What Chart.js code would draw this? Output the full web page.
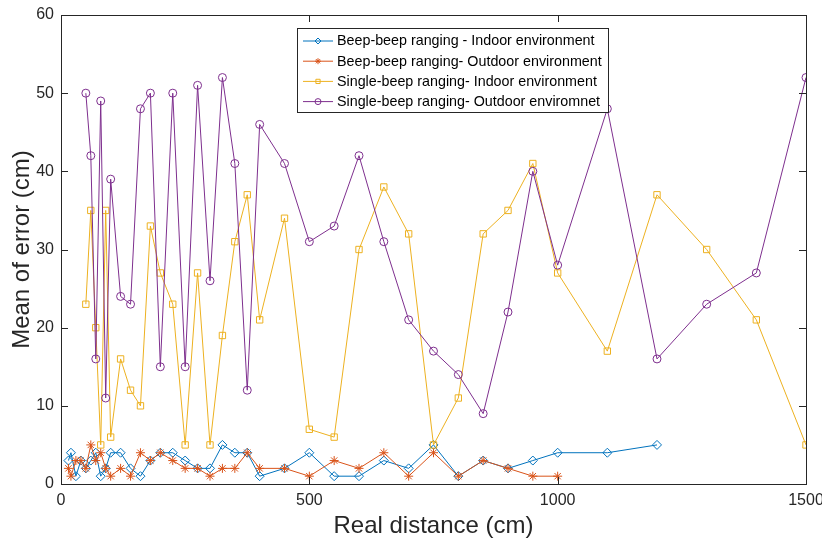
<!DOCTYPE html>
<html>
<head>
<meta charset="utf-8">
<script src="https://cdn.jsdelivr.net/npm/chart.js@4.4.0/dist/chart.umd.min.js"></script>
<style>
  html, body { margin: 0; padding: 0; background: #fff; }
  #wrap { width: 822px; height: 543px; }
</style>
</head>
<body>
<div id="wrap"><canvas id="myChart" width="822" height="543"></canvas></div>
<script>
// distances (cm)
const distBeepIn = [15, 20, 30, 40, 50, 60, 70, 80, 90, 100, 120, 140, 160, 180, 200, 225, 250, 275, 300, 325, 350, 375, 400, 450, 500, 550, 600, 650, 700, 750, 800, 850, 900, 950, 1000, 1100, 1200];
const distBeepOut = [15, 20, 30, 40, 50, 60, 70, 80, 90, 100, 120, 140, 160, 180, 200, 225, 250, 275, 300, 325, 350, 375, 400, 450, 500, 550, 600, 650, 700, 750, 800, 850, 900, 950, 1000];
const distSingle = [50, 60, 70, 80, 90, 100, 120, 140, 160, 180, 200, 225, 250, 275, 300, 325, 350, 375, 400, 450, 500, 550, 600, 650, 700, 750, 800, 850, 900, 950, 1000, 1100, 1200, 1300, 1400, 1500];

// mean error (cm)
const beepIndoor = [3, 4, 1, 3, 2, 3, 4, 1, 2, 4, 4, 2, 1, 3, 4, 4, 3, 2, 2, 5, 4, 4, 1, 2, 4, 1, 1, 3, 2, 5, 1, 3, 2, 3, 4, 4, 5];
const beepOutdoor = [2, 1, 3, 3, 2, 5, 3, 4, 2, 1, 2, 1, 4, 3, 4, 3, 2, 2, 1, 2, 2, 4, 2, 2, 1, 3, 2, 4, 1, 4, 1, 3, 2, 1, 1];
const singleIndoor = [23, 35, 20, 5, 35, 6, 16, 12, 10, 33, 27, 23, 5, 27, 5, 19, 31, 37, 21, 34, 7, 6, 30, 38, 32, 5, 11, 32, 35, 41, 27, 17, 37, 30, 21, 5];
const singleOutdoor = [50, 42, 16, 49, 11, 39, 24, 23, 48, 50, 15, 50, 15, 51, 26, 52, 41, 12, 46, 41, 31, 33, 42, 31, 21, 17, 14, 9, 22, 40, 28, 48, 16, 23, 27, 52];

const seriesNames = [
  'Beep-beep ranging - Indoor environment',
  'Beep-beep ranging- Outdoor environment',
  'Single-beep ranging- Indoor environment',
  'Single-beep ranging- Outdoor enviromnet'
];

const xTickValues = [0, 500, 1000, 1500];
const yTickValues = [0, 10, 20, 30, 40, 50, 60];

const txtColor = '#262626';
const fontFam = '"Liberation Sans", Arial, Helvetica, sans-serif';

function pts(xs, ys) {
  return xs.map((v, i) => ({ x: v, y: ys[i] }));
}

function serie(label, data, color, style, radius, order) {
  return {
    label: label,
    data: data,
    borderColor: color,
    backgroundColor: color,
    borderWidth: 1,
    pointStyle: style,
    pointRadius: radius,
    pointBorderColor: color,
    pointBackgroundColor: 'rgba(0,0,0,0)',
    pointBorderWidth: 1,
    tension: 0,
    order: order
  };
}

// box around the axes with inward ticks on all four sides
const frameBox = {
  id: 'frameBox',
  afterDraw(chart) {
    const { ctx, chartArea: a, scales: { x, y } } = chart;
    ctx.save();
    ctx.strokeStyle = txtColor;
    ctx.lineWidth = 1;
    ctx.beginPath();
    xTickValues.forEach(v => {
      const px = Math.round(x.getPixelForValue(v)) + 0.5;
      ctx.moveTo(px, a.bottom); ctx.lineTo(px, a.bottom - 7);
      ctx.moveTo(px, a.top); ctx.lineTo(px, a.top + 7);
    });
    yTickValues.forEach(v => {
      const py = Math.round(y.getPixelForValue(v)) + 0.5;
      ctx.moveTo(a.left, py); ctx.lineTo(a.left + 7, py);
      ctx.moveTo(a.right, py); ctx.lineTo(a.right - 7, py);
    });
    ctx.stroke();
    ctx.strokeRect(Math.round(a.left) + 0.5, Math.round(a.top) + 0.5,
      Math.round(a.right - a.left), Math.round(a.bottom - a.top));
    ctx.restore();
  }
};

// legend box inside the plot, like the matlab one
const boxLegend = {
  id: 'boxLegend',
  afterDraw(chart) {
    const ctx = chart.ctx;
    const bx = 297.5, by = 28.5, bw = 311, bh = 84;
    ctx.save();
    ctx.fillStyle = '#fff';
    ctx.fillRect(bx, by, bw, bh);
    ctx.strokeStyle = txtColor;
    ctx.lineWidth = 1;
    ctx.strokeRect(bx, by, bw, bh);
    ctx.font = '14.3px ' + fontFam;
    ctx.textBaseline = 'middle';
    ctx.textAlign = 'left';
    chart.data.datasets.forEach((ds, i) => {
      const ry = 41 + i * 20.2;
      ctx.strokeStyle = ds.borderColor;
      ctx.lineWidth = 1;
      ctx.beginPath();
      ctx.moveTo(303, ry);
      ctx.lineTo(333, ry);
      ctx.stroke();
      ctx.fillStyle = 'rgba(0,0,0,0)';
      Chart.helpers.drawPoint(ctx, { pointStyle: ds.pointStyle, radius: 3, rotation: 0, borderWidth: 1 }, 318, ry);
      ctx.fillStyle = '#000';
      ctx.fillText(ds.label, 337, ry + 0.5);
    });
    ctx.restore();
  }
};

const ctx = document.getElementById('myChart');
const myChart = new Chart(ctx, {
  type: 'line',
  data: {
    datasets: [
      serie(seriesNames[0], pts(distBeepIn, beepIndoor), '#0072BD', 'rectRot', 4.5, 4),
      serie(seriesNames[1], pts(distBeepOut, beepOutdoor), '#D95319', 'star', 4.5, 3),
      serie(seriesNames[2], pts(distSingle, singleIndoor), '#EDB120', 'rect', 4.5, 2),
      serie(seriesNames[3], pts(distSingle, singleOutdoor), '#7E2F8E', 'circle', 4, 1)
    ]
  },
  options: {
    responsive: false,
    animation: false,
    devicePixelRatio: 1,
    layout: { padding: { top: 15, right: 16, left: 0, bottom: 0 } },
    plugins: {
      legend: { display: false },
      tooltip: { enabled: false }
    },
    scales: {
      x: {
        type: 'linear',
        min: 0,
        max: 1500,
        afterBuildTicks: s => { s.ticks = xTickValues.map(v => ({ value: v })); },
        afterFit: s => { s.height = 59; s.paddingLeft = 0; s.paddingRight = 0; },
        grid: { display: false, drawTicks: false },
        border: { display: false },
        ticks: {
          color: txtColor,
          font: { family: fontFam, size: 16 },
          padding: 7,
          maxRotation: 0,
          callback: v => String(v)
        },
        title: {
          display: true,
          text: 'Real distance (cm)',
          color: txtColor,
          font: { family: fontFam, size: 24 },
          padding: { top: 0, bottom: 2 }
        }
      },
      y: {
        min: 0,
        max: 60,
        afterBuildTicks: s => { s.ticks = yTickValues.map(v => ({ value: v })); },
        afterFit: s => { s.width = 61; s.paddingTop = 0; s.paddingBottom = 0; },
        grid: { display: false, drawTicks: false },
        border: { display: false },
        ticks: { color: txtColor, font: { family: fontFam, size: 16 }, padding: 7, callback: v => String(v) },
        title: {
          display: true,
          text: 'Mean of error (cm)',
          color: txtColor,
          font: { family: fontFam, size: 24 },
          padding: { top: 8, bottom: 0 }
        }
      }
    }
  },
  plugins: [frameBox, boxLegend]
});
</script>
</body>
</html>
